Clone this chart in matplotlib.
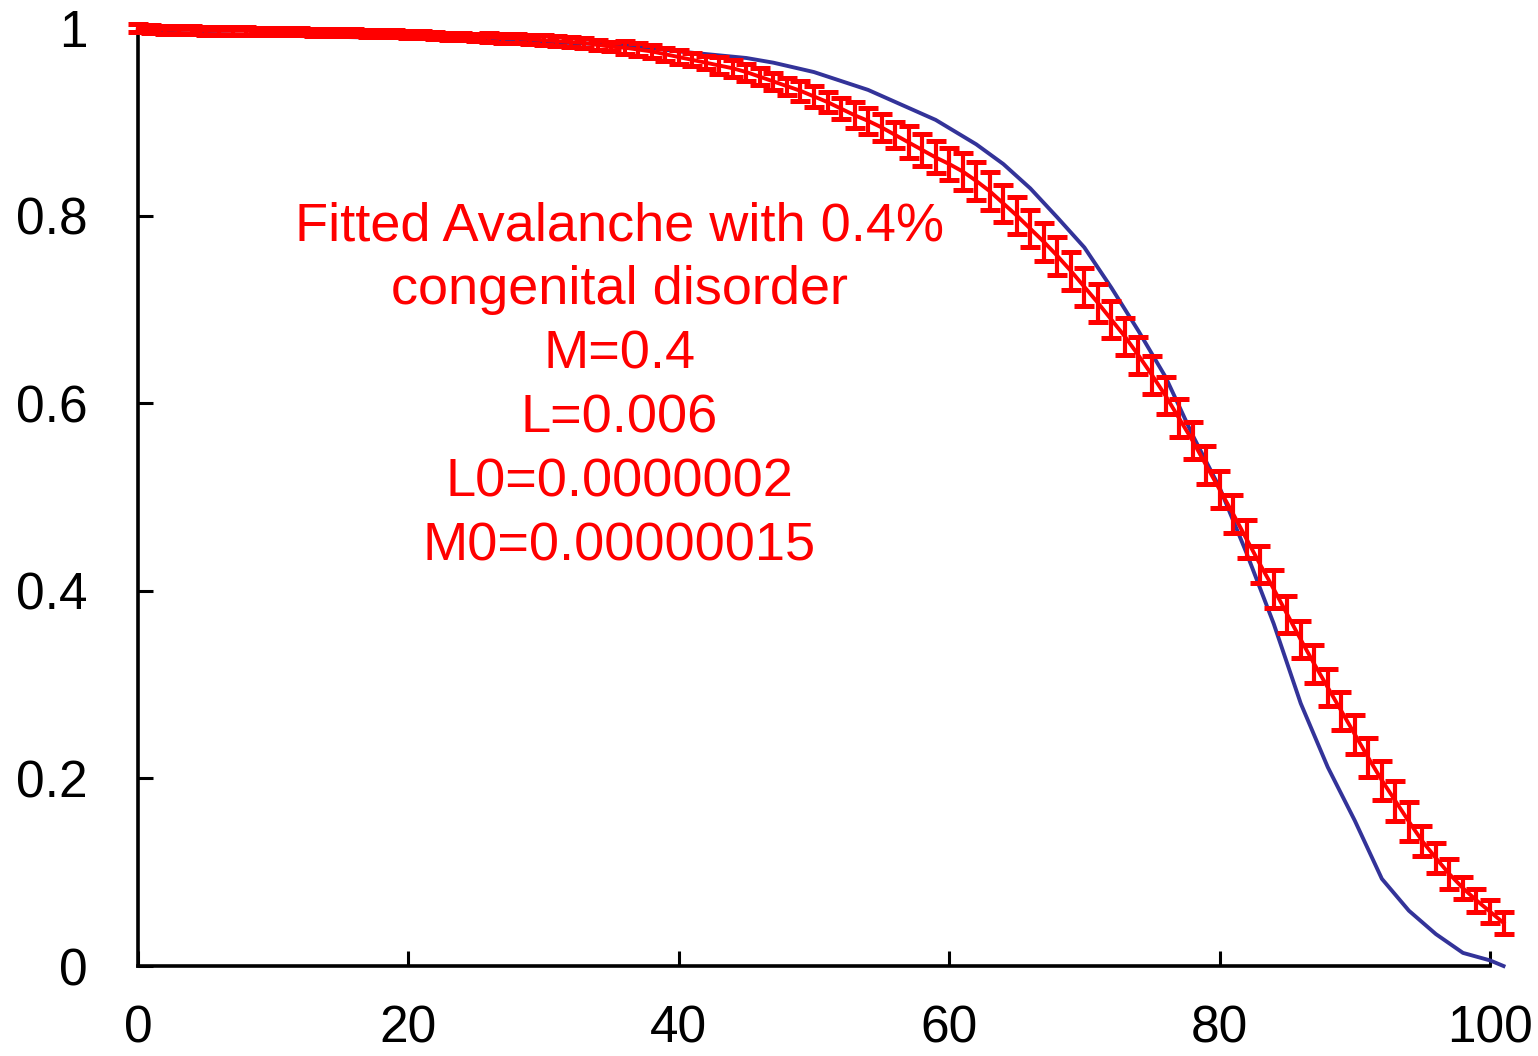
import numpy as np
import matplotlib
matplotlib.use("Agg")
import matplotlib.pyplot as plt

# red: fitted survival, one point per year of age, with error bars
age_fit = list(range(0, 102))
surv_fit = [
    1.000, 0.999, 0.998, 0.998, 0.998, 0.997, 0.997, 0.997, 0.997, 0.996,
    0.996, 0.996, 0.996, 0.995, 0.995, 0.995, 0.995, 0.994, 0.994, 0.994,
    0.993, 0.993, 0.992, 0.991, 0.991, 0.990, 0.990, 0.989, 0.989, 0.988,
    0.987, 0.986, 0.985, 0.984, 0.982, 0.980, 0.979, 0.977, 0.975, 0.972,
    0.969, 0.966, 0.963, 0.960, 0.957, 0.953, 0.948, 0.943, 0.938, 0.933,
    0.927, 0.921, 0.914, 0.907, 0.901, 0.894, 0.886, 0.878, 0.870, 0.862,
    0.855, 0.847, 0.837, 0.826, 0.813, 0.800, 0.786, 0.772, 0.757, 0.741,
    0.724, 0.707, 0.689, 0.671, 0.651, 0.630, 0.608, 0.584, 0.560, 0.534,
    0.508, 0.482, 0.455, 0.428, 0.402, 0.375, 0.348, 0.322, 0.297, 0.272,
    0.247, 0.222, 0.198, 0.176, 0.154, 0.133, 0.115, 0.098, 0.083, 0.070,
    0.058, 0.046,
]
err_fit = (
    [0.004] * 26 + [0.005] * 10 + [0.007] * 7 + [0.009] * 6 + [0.011] * 4
    + [0.014] * 4 + [0.017] * 4 + [0.020] * 29 + [0.021] * 5 + [0.016] * 3
    + [0.012] * 4
)

# blue: observed survival curve
age_obs = [0, 2, 4, 10, 20, 30, 36, 40, 45, 47, 50, 54, 59, 62, 64, 66, 68,
           70, 72, 74, 76, 78, 80, 82, 84, 86, 88, 90, 92, 94, 96, 98, 100, 101]
surv_obs = [1.000, 0.995, 0.994, 0.992, 0.989, 0.985, 0.982, 0.975, 0.968,
            0.963, 0.953, 0.934, 0.902, 0.876, 0.855, 0.829, 0.798, 0.766,
            0.723, 0.677, 0.628, 0.566, 0.510, 0.440, 0.365, 0.280, 0.212,
            0.155, 0.093, 0.059, 0.034, 0.014, 0.006, 0.000]

note = ("Fitted Avalanche with 0.4%\ncongenital disorder\nM=0.4\nL=0.006\n"
        "L0=0.0000002\nM0=0.00000015")

plt.rcParams["font.family"] = ["Liberation Sans", "DejaVu Sans"]

fig = plt.figure(figsize=(15.38, 10.56), dpi=100)
ax = fig.add_axes([0.0897, 0.0852, 0.8791, 0.8883])

ax.plot(age_obs, surv_obs, color="#333399", lw=2.8, clip_on=False, zorder=3)
ax.errorbar(age_fit, surv_fit, yerr=err_fit, color="red", ecolor="red",
            lw=2.8, elinewidth=3.0, capsize=7, capthick=3.6, clip_on=False,
            zorder=4)

ax.text(35.6, 0.618, note, color="red", fontsize=39, ha="center", va="center",
        linespacing=1.36)

ax.set_xlim(0, 100)
ax.set_ylim(0, 1)
ax.set_xticks([0, 20, 40, 60, 80, 100])
ax.set_yticks([0, 0.2, 0.4, 0.6, 0.8, 1])
ax.set_yticklabels(["0", "0.2", "0.4", "0.6", "0.8", "1"])
ax.spines["top"].set_visible(False)
ax.spines["right"].set_visible(False)
for s in ("left", "bottom"):
    ax.spines[s].set_linewidth(2.6)
ax.tick_params(direction="in", length=11, width=2.2, labelsize=37)
ax.tick_params(axis="x", pad=28)
ax.tick_params(axis="y", pad=36)

fig.savefig("out.png", dpi=100)
